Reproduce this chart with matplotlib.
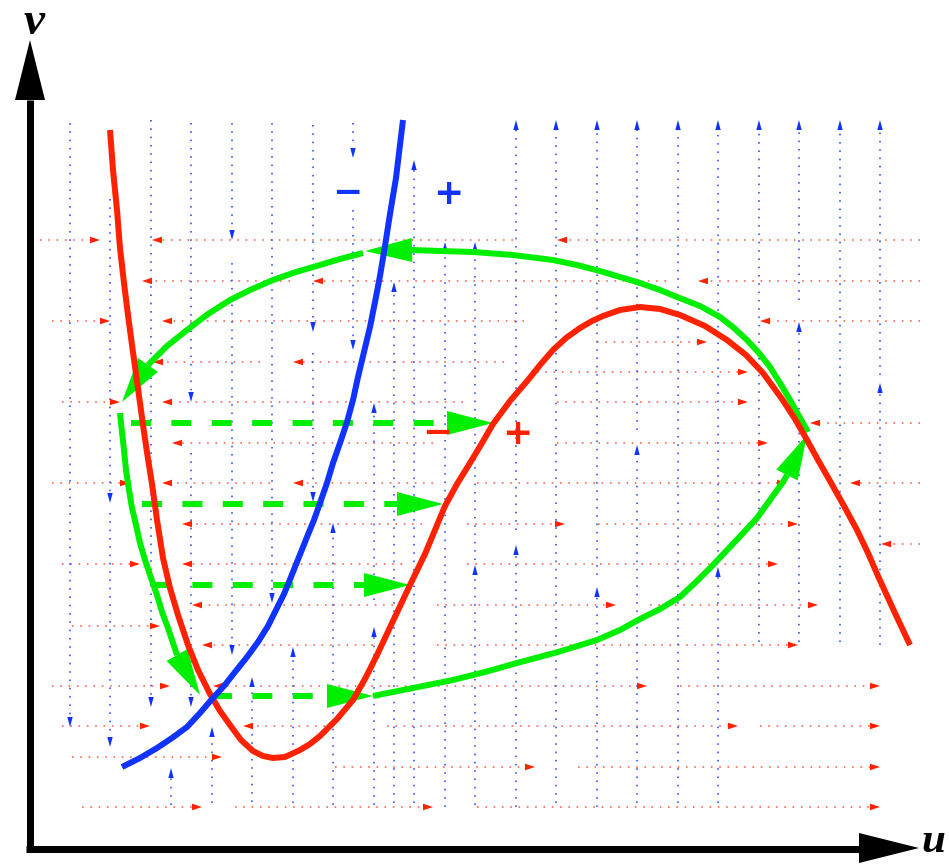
#!/usr/bin/env python3
# phase plane sketch: nullclines, flow grid and a relaxation loop

import numpy as np
import matplotlib
matplotlib.use("Agg")
import matplotlib.pyplot as plt
from matplotlib.patches import Polygon

# everything is in picture pixels: x to the right, y downwards

# u-nullcline (red) and v-nullcline (blue)
red_curve = [(110, 130), (113, 170), (117, 210), (120, 248), (124, 283), (128, 315),
             (132, 345), (136, 374), (140, 403), (144, 432), (148, 459), (152, 484),
             (157, 520), (163, 558), (170, 588), (178, 615), (188, 645), (198, 670),
             (210, 694), (220, 711), (230, 725), (241, 740), (253, 751), (263, 756),
             (273, 758), (285, 757), (300, 750), (310, 744), (320, 736), (337, 719),
             (353, 700), (366, 677), (377, 655), (393, 621), (410, 585), (425, 554),
             (435, 530), (445, 506), (457, 484), (470, 463), (482, 443), (493, 424),
             (510, 401), (528, 380), (540, 365), (553, 350), (566, 338), (580, 328),
             (592, 321), (603, 316), (620, 310), (640, 307), (660, 309), (680, 315),
             (705, 326), (727, 340), (746, 355), (763, 373), (782, 399), (795, 419),
             (807, 440), (818, 460), (830, 481), (844, 506), (857, 530), (868, 553),
             (878, 576), (894, 611), (910, 645)]
blue_curve = [(122, 767), (140, 758), (157, 748), (172, 738), (187, 727), (200, 713),
              (212, 699), (224, 686), (235, 672), (247, 657), (258, 642), (268, 626),
              (276, 610), (284, 594), (291, 577), (299, 557), (307, 537), (314, 520),
              (320, 503), (327, 483), (333, 463), (340, 443), (347, 422), (353, 400),
              (358, 377), (364, 352), (370, 327), (375, 302), (380, 276), (385, 246),
              (390, 214), (396, 178), (403, 120)]

# fast (horizontal, red) flow lines: (y, x_start, x_end), head at x_end
h_flow = [(240, 40, 100), (240, 513, 152), (240, 920, 557),
          (281, 290, 142), (281, 666, 313), (281, 920, 698),
          (321, 52, 110), (321, 524, 162), (321, 920, 760),
          (342, 597, 707),
          (362, 260, 153), (362, 504, 293),
          (372, 537, 748),
          (402, 62, 120), (402, 463, 162), (402, 557, 748),
          (423, 920, 810),
          (443, 433, 172), (443, 557, 768),
          (483, 52, 130), (483, 270, 162), (483, 433, 293), (483, 477, 787), (483, 920, 850),
          (524, 422, 182), (524, 467, 565), (524, 598, 798),
          (544, 920, 881),
          (564, 62, 140), (564, 402, 182), (564, 467, 778),
          (605, 393, 192), (605, 437, 616), (605, 650, 818),
          (626, 72, 160),
          (645, 373, 202), (645, 437, 798),
          (686, 52, 170), (686, 320, 213), (686, 330, 647), (686, 680, 880),
          (726, 62, 150), (726, 325, 243), (726, 387, 738), (726, 760, 880),
          (757, 72, 222),
          (767, 335, 535), (767, 578, 880),
          (807, 82, 202), (807, 235, 433), (807, 477, 880)]

# slow (vertical, blue) flow lines: (x, y_start, y_end), head at y_end
v_flow = [(70, 123, 727),
          (110, 199, 503), (110, 513, 747),
          (151, 120, 707),
          (171, 805, 768),
          (191, 123, 402), (191, 453, 707),
          (212, 803, 727),
          (232, 123, 240), (232, 263, 655),
          (252, 802, 677),
          (272, 123, 603),
          (293, 803, 647),
          (313, 125, 332), (313, 353, 502),
          (333, 805, 523),
          (353, 123, 158), (353, 210, 350),
          (374, 600, 403), (374, 805, 627),
          (394, 803, 282),
          (414, 803, 160),
          (445, 807, 242),
          (475, 560, 242), (475, 805, 565),
          (516, 530, 120), (516, 807, 545),
          (556, 803, 120),
          (597, 575, 120), (597, 807, 587),
          (637, 430, 120), (637, 803, 445),
          (678, 803, 120),
          (718, 560, 120), (718, 803, 567),
          (759, 642, 120),
          (799, 300, 120), (799, 642, 322),
          (840, 642, 120),
          (880, 375, 120), (880, 645, 383)]

# the relaxation loop (green): solid pieces, each ending with the tip of a head
green_paths = [
    ([(808, 432), (799, 416), (790, 400), (780, 383), (770, 367), (759, 353), (747, 340),
      (734, 328), (720, 317), (700, 306), (677, 297), (660, 290), (640, 283), (620, 277),
      (600, 271), (577, 265), (553, 260), (513, 255), (473, 252), (440, 251), (412, 250)],
     (365, 251)),
    ([(363, 253), (340, 259), (320, 265), (296, 272), (273, 280), (250, 290), (230, 300),
      (208, 314), (187, 330), (167, 346), (148, 365)], (122, 402)),
    ([(120, 413), (122, 432), (124, 450), (126, 470), (129, 490), (132, 508), (136, 525),
      (140, 543), (145, 560), (151, 578), (157, 595), (162, 612), (168, 628), (177, 655)],
     (200, 695)),
    ([(373, 696), (413, 688), (453, 680), (485, 672), (517, 663), (558, 652), (597, 640),
      (620, 630), (640, 619), (660, 609), (680, 597), (697, 581), (712, 566), (730, 547),
      (745, 531), (757, 518), (770, 500), (783, 482), (787, 475)], (807, 435)),
]
# dashed fast jumps: (y, x_start, x_tip)
green_jumps = [(423, 131, 493), (504, 142, 443), (585, 152, 410), (696, 212, 373)]

# sign labels: (x, y, text, colour)
signs = [(347, 189, "\u2212", "#1133ff"), (448, 191, "+", "#1133ff"),
         (437, 430, "\u2212", "#ff2200"), (517, 430, "+", "#ff2200")]

RED = "#ff2200"
BLUE = "#1133ff"
GREEN = "#00ee00"
PX = 0.72  # points per pixel at dpi 100


def head(ax, base, tip, half, color, z):
    base = np.asarray(base, float)
    tip = np.asarray(tip, float)
    d = tip - base
    n = np.array([-d[1], d[0]]) / np.hypot(*d)
    ax.add_patch(Polygon([tip, base + n * half, base - n * half], closed=True,
                         facecolor=color, edgecolor="none", zorder=z))


def main():
    fig = plt.figure(figsize=(9.49, 8.64), dpi=100)
    ax = fig.add_axes([0, 0, 1, 1])
    ax.set_xlim(0, 949)
    ax.set_ylim(864, 0)
    ax.axis("off")

    dots = (0, (1, 4.2))
    for y, x0, x1 in h_flow:
        s = np.sign(x1 - x0)
        ax.plot([x0, x1 - 9 * s], [y, y], color="#ff5a48", lw=1.15, ls=dots, zorder=1)
        head(ax, (x1 - 10 * s, y), (x1, y), 3.3, RED, 2)
    for x, y0, y1 in v_flow:
        s = np.sign(y1 - y0)
        ax.plot([x, x], [y0, y1 - 9 * s], color="#2a4cff", lw=1.15, ls=dots, zorder=1)
        head(ax, (x, y1 - 10 * s), (x, y1), 2.7, BLUE, 2)

    # relaxation loop
    for pts, tip in green_paths:
        xs, ys = zip(*pts)
        ax.plot(xs, ys, color=GREEN, lw=6 * PX, solid_capstyle="butt",
                solid_joinstyle="round", zorder=3)
        head(ax, pts[-1], tip, 12, GREEN, 3)
    for y, x0, xt in green_jumps:
        ax.plot([x0, xt - 46], [y, y], color=GREEN, lw=6 * PX,
                ls=(0, (3.33, 3.4)), dash_capstyle="butt", zorder=3)
        head(ax, (xt - 46, y), (xt, y), 12, GREEN, 3)

    # nullclines
    xs, ys = zip(*red_curve)
    ax.plot(xs, ys, color=RED, lw=6 * PX, solid_capstyle="butt",
            solid_joinstyle="round", zorder=4)
    xs, ys = zip(*blue_curve)
    ax.plot(xs, ys, color=BLUE, lw=6 * PX, solid_capstyle="butt",
            solid_joinstyle="round", zorder=5)

    for x, y, t, c in signs:
        ax.text(x, y, t, color=c, fontsize=26, fontweight="bold",
                ha="center", va="center_baseline", zorder=6)

    # axes with arrow heads
    ax.plot([30, 30], [852, 100], color="black", lw=7 * PX, solid_capstyle="butt", zorder=6)
    ax.plot([26, 860], [849, 849], color="black", lw=7 * PX, solid_capstyle="butt", zorder=6)
    head(ax, (30, 100), (30, 40), 15, "black", 6)
    head(ax, (859, 848), (919, 848), 15, "black", 6)
    lab = dict(family=["Liberation Serif", "DejaVu Serif"], style="italic",
               fontweight="bold", zorder=6)
    ax.text(34, 34, "v", ha="center", va="baseline", fontsize=34, **lab)
    ax.text(945, 852, "u", ha="right", va="baseline", fontsize=31, **lab)

    fig.savefig("out.png", dpi=100)


if __name__ == "__main__":
    main()
